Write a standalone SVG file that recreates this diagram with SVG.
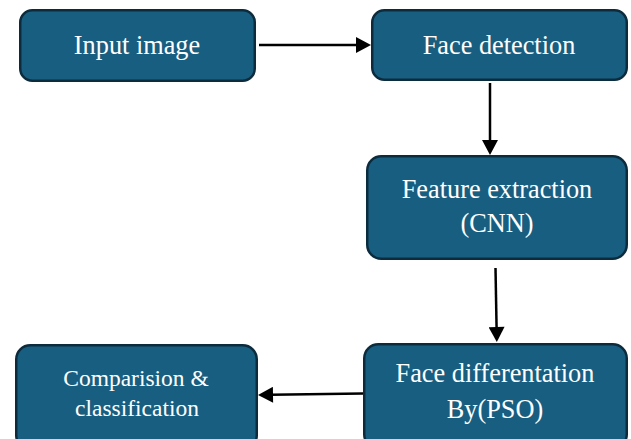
<svg xmlns="http://www.w3.org/2000/svg" width="631" height="439" viewBox="0 0 631 439">
  <style>
    .box { fill: #185e80; stroke: #0c2c3e; stroke-width: 2.5; }
    .lbl { fill: #ffffff; text-anchor: middle; }
    .big { font-size: 26.3px; }
    .small { font-size: 23.5px; }
    .edge { stroke: #000000; stroke-width: 2.5; fill: none; marker-end: url(#head); }
  </style>
  <defs>
    <!-- Filled triangular arrowhead; tip sits 13px past the line end -->
    <marker id="head" markerUnits="userSpaceOnUse" markerWidth="16" markerHeight="16" viewBox="0 0 15 16" refX="2" refY="8" orient="auto">
      <path d="M0,0 L15,8 L0,16 Z" fill="#000000"/>
    </marker>
  </defs>
  <rect width="631" height="439" fill="#ffffff"/>

  <g id="connectors">
    <line class="edge" x1="259" y1="45" x2="358" y2="45"/>
    <line class="edge" x1="490" y1="83" x2="490" y2="142"/>
    <line class="edge" x1="495.5" y1="268" x2="496.6" y2="329"/>
    <line class="edge" x1="363" y1="393.5" x2="271" y2="394.8"/>
  </g>

  <g font-family="'Liberation Serif', 'DejaVu Serif', serif">
    <g id="input-image">
      <rect class="box" x="20.25" y="10.25" width="234.5" height="70.5" rx="12"/>
      <text class="lbl big" x="137" y="54">Input image</text>
    </g>

    <g id="face-detection">
      <rect class="box" x="372.25" y="10.25" width="254.5" height="69.5" rx="12"/>
      <text class="lbl big" x="499" y="54">Face detection</text>
    </g>

    <g id="feature-extraction">
      <rect class="box" x="367.25" y="156.25" width="259.5" height="102.5" rx="14"/>
      <text class="lbl big" x="497" y="198">Feature extraction</text>
      <text class="lbl big" x="497" y="232">(CNN)</text>
    </g>

    <g id="face-differentation">
      <rect class="box" x="364.25" y="344.25" width="262.5" height="104" rx="14"/>
      <text class="lbl big" x="495" y="382">Face differentation</text>
      <text class="lbl big" x="495" y="418">By(PSO)</text>
    </g>

    <g id="comparision-classification">
      <rect class="box" x="16.25" y="345.25" width="240.5" height="104" rx="14"/>
      <text class="lbl small" x="136" y="386">Comparision &amp;</text>
      <text class="lbl small" x="137" y="416">classification</text>
    </g>
  </g>
</svg>
